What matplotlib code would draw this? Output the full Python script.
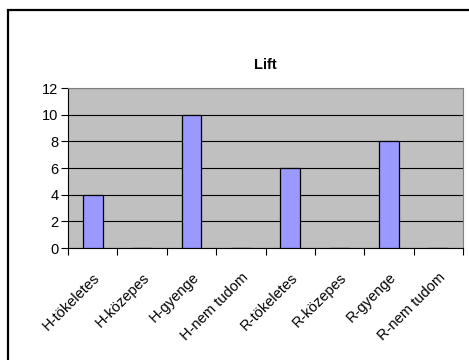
#!/usr/bin/env python3
"""Lift bar chart in old Excel style"""

import matplotlib
matplotlib.use("Agg")
import matplotlib.pyplot as plt
from matplotlib.patches import Rectangle

categories = ["H-tökeletes", "H-közepes", "H-gyenge", "H-nem tudom",
              "R-tökeletes", "R-közepes", "R-gyenge", "R-nem tudom"]
values = [4, 0, 10, 0, 6, 0, 8, 0]
y_ticks = [0, 2, 4, 6, 8, 10, 12]

plt.rcParams["font.family"] = ["Liberation Sans", "DejaVu Sans"]

W, H = 469, 360
fig = plt.figure(figsize=(W / 100, H / 100), dpi=100)

# outer chart border (runs off the right and bottom edges)
fig.patches.append(Rectangle((8 / W, -0.1), 1.2, 1 - 10 / H + 0.1,
                             transform=fig.transFigure, fill=False,
                             edgecolor="black", linewidth=1.6))

ax = fig.add_axes([68 / W, 1 - 248 / H, (463 - 68) / W, (248 - 88) / H])
ax.set_facecolor("#C0C0C0")

x = range(len(categories))
ax.bar(x, values, width=0.4, color="#9999FF", edgecolor="black",
       linewidth=0.9, zorder=3)

ax.set_xlim(-0.5, len(categories) - 0.5)
ax.set_ylim(0, 12)
ax.set_yticks(y_ticks)
ax.yaxis.grid(True, color="black", linewidth=0.8, zorder=1)
ax.set_axisbelow(True)

ax.set_xticks([i - 0.5 for i in range(len(categories) + 1)])
ax.set_xticklabels([])
ax.set_xticks(list(x), minor=True)
ax.set_xticklabels(categories, minor=True, rotation=45, ha="right",
                   va="top", rotation_mode="anchor", fontsize=10.5)
ax.tick_params(axis="x", which="minor", length=0, pad=16)
ax.tick_params(axis="x", which="major", length=5, width=0.8)
ax.tick_params(axis="y", length=5, width=0.8, labelsize=10.5, pad=2)

for side in ("top", "right"):
    ax.spines[side].set_color("#808080")
    ax.spines[side].set_linewidth(0.8)
ax.spines["left"].set_linewidth(0.8)
ax.spines["bottom"].set_linewidth(0.8)

ax.set_title("Lift", fontsize=10.5, fontweight="bold", pad=14)

fig.savefig("out.png", dpi=100)
